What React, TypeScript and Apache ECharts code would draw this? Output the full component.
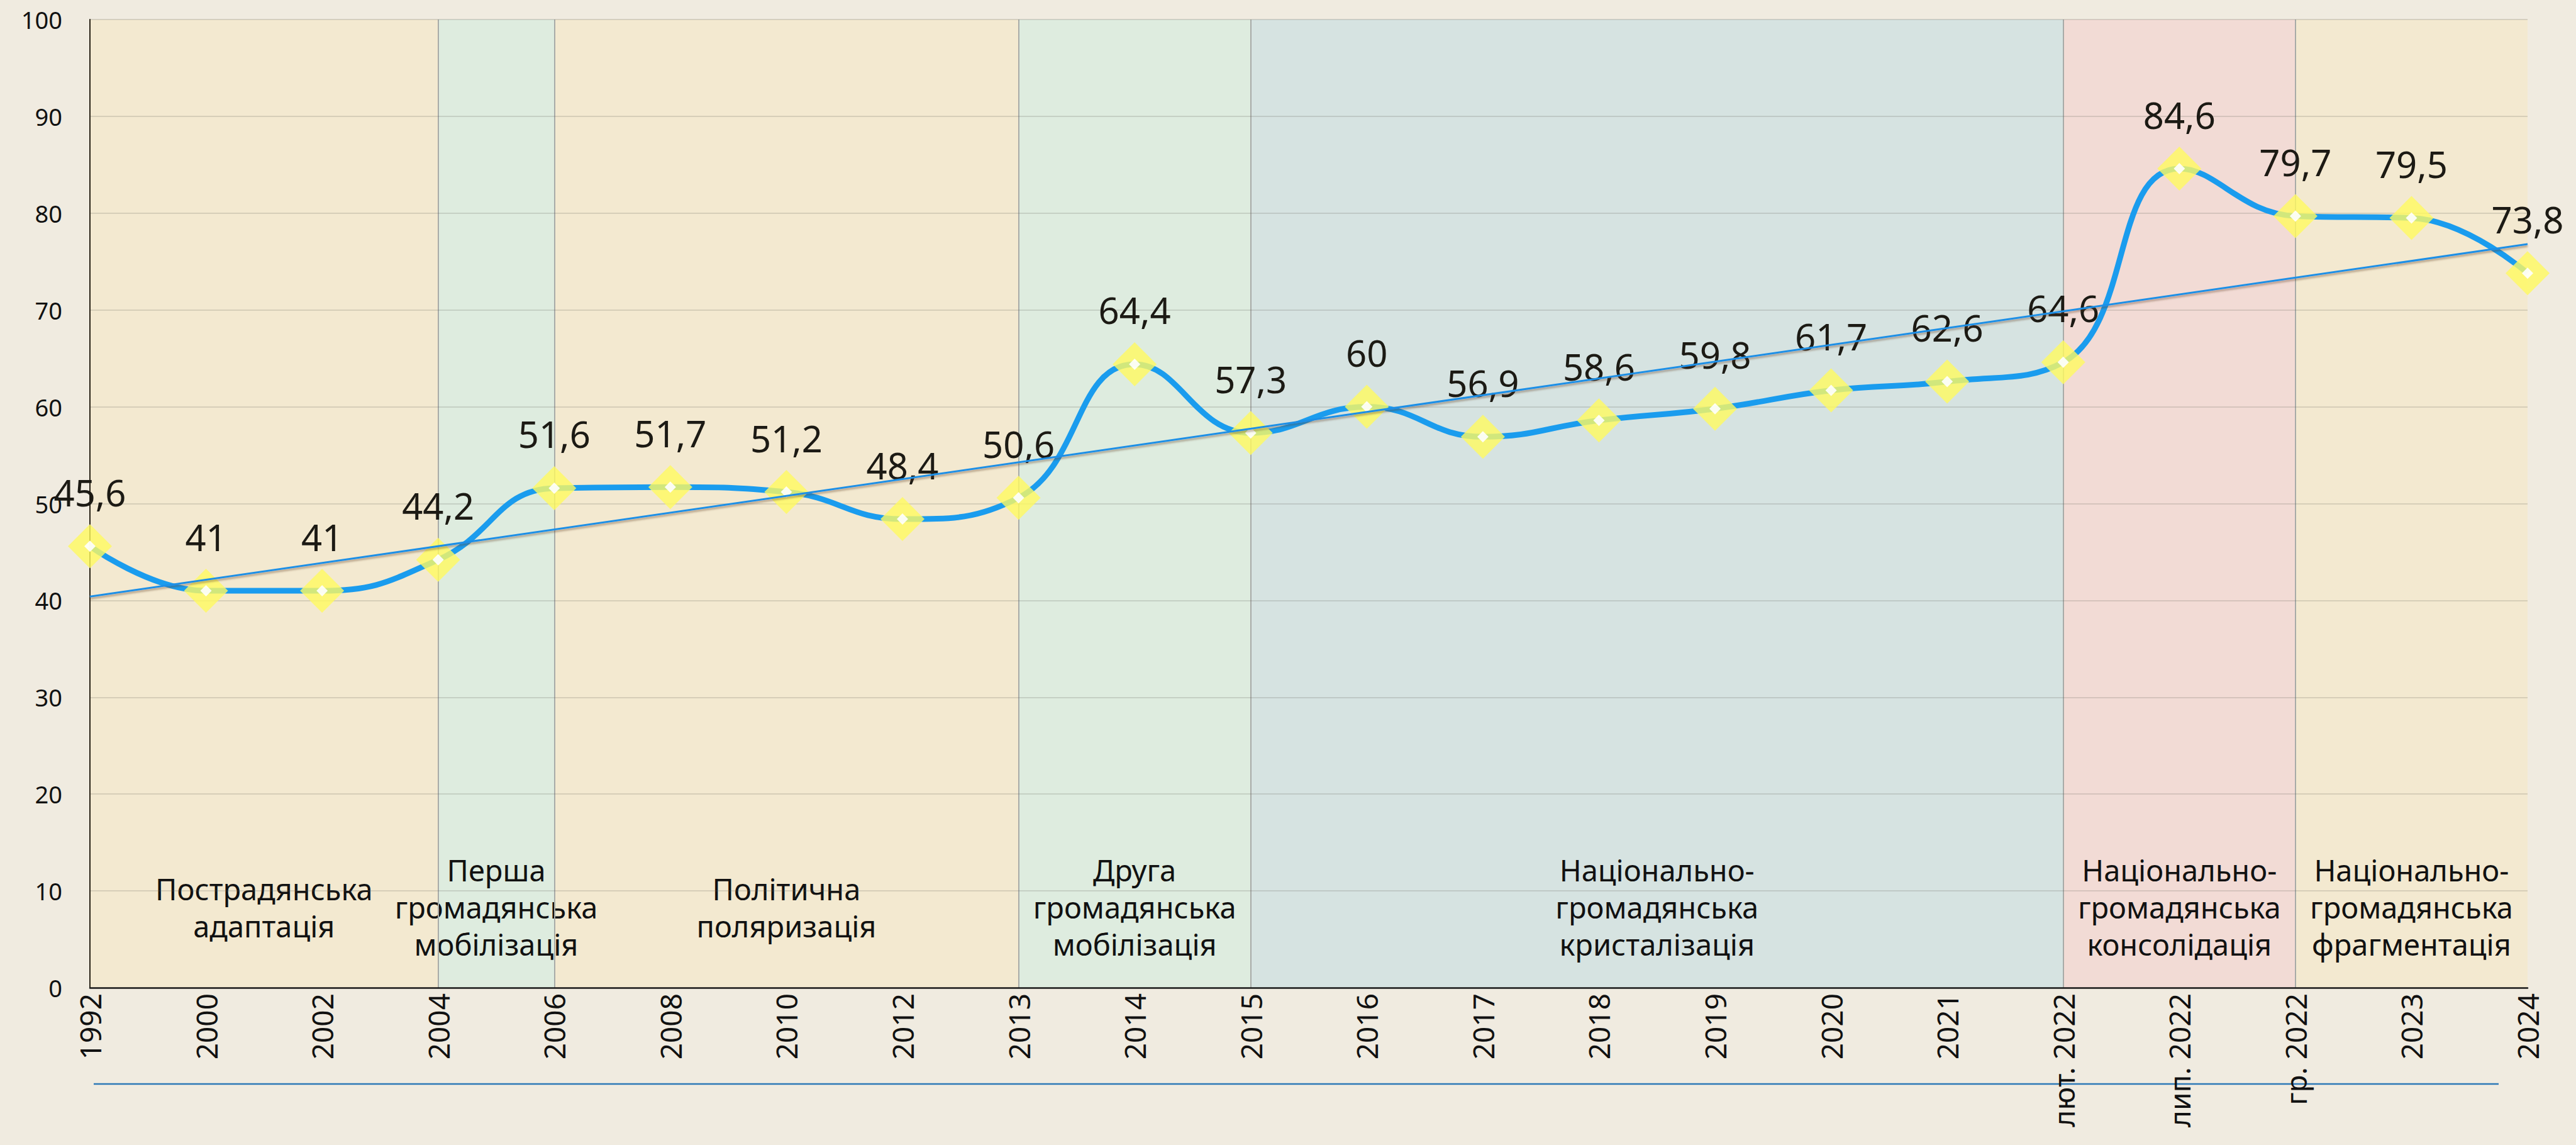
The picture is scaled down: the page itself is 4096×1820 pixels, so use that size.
import React, { useEffect, useRef } from "react";
import * as echarts from "echarts";

// ---- data ----
const categories = [
  "1992", "2000", "2002", "2004", "2006", "2008", "2010", "2012", "2013", "2014", "2015",
  "2016", "2017", "2018", "2019", "2020", "2021", "лют. 2022", "лип. 2022", "гр. 2022", "2023", "2024",
];
const values = [
  45.6, 41, 41, 44.2, 51.6, 51.7, 51.2, 48.4, 50.6, 64.4, 57.3,
  60, 56.9, 58.6, 59.8, 61.7, 62.6, 64.6, 84.6, 79.7, 79.5, 73.8,
];
// linear trend line, read at its two ends
const trendEnds = [40.4, 76.8];

const yMin = 0;
const yMax = 100;
const yStep = 10;

const periodNames = [
  "Пострадянська\nадаптація",
  "Перша\nгромадянська\nмобілізація",
  "Політична\nполяризація",
  "Друга\nгромадянська\nмобілізація",
  "Національно-\nгромадянська\nкристалізація",
  "Національно-\nгромадянська\nконсолідація",
  "Національно-\nгромадянська\nфрагментація",
];
const periodStart = ["1992", "2004", "2006", "2013", "2015", "лют. 2022", "гр. 2022"];
const periodEnd = ["2004", "2006", "2013", "2015", "лют. 2022", "гр. 2022", "2024"];
const periodKind = ["adapt", "mobil", "adapt", "mobil", "cryst", "consol", "adapt"];
const periodLabelValue = 8.3;

// ---- styles ----
const bandColors: Record<string, string> = {
  adapt: "#f3e9d0",
  mobil: "#deecdf",
  cryst: "#d6e3e1",
  consol: "#f2dbd5",
};
const FONT = "'Noto Sans', sans-serif";
const W = 4096;
const H = 1820;
const gridLeft = 143;
const gridTop = 31;
const gridRight = 77;
const gridBottom = 250;

export default function App() {
  const ref = useRef<HTMLDivElement>(null);

  useEffect(() => {
    document.body.style.margin = "0";
    if (!ref.current) return;
    const chart = echarts.init(ref.current, undefined, { renderer: "svg" });

    const gridHeight = H - gridTop - gridBottom;
    const centerY = gridTop + gridHeight / 2;
    const labelY = gridTop + gridHeight * (1 - (periodLabelValue - yMin) / (yMax - yMin));
    const bandLabelOffset = labelY - centerY;

    const last = categories.length - 1;
    const trendData = categories.map((_, i) =>
      i === 0 ? trendEnds[0] : i === last ? trendEnds[1] : null
    );

    const boundaries = periodStart.slice(1);

    chart.setOption({
      animation: false,
      backgroundColor: "#f0ebe0",
      textStyle: { fontFamily: FONT },
      grid: { left: gridLeft, top: gridTop, right: gridRight, bottom: gridBottom, containLabel: false },
      xAxis: {
        type: "category",
        data: categories,
        boundaryGap: false,
        z: 2,
        axisLine: { show: true, lineStyle: { color: "#1a1a1a", width: 2.5 } },
        axisTick: { show: false },
        splitLine: { show: false },
        axisLabel: {
          rotate: 90,
          interval: 0,
          margin: 9,
          fontSize: 46,
          color: "#111",
          fontFamily: FONT,
        },
      },
      yAxis: {
        type: "value",
        min: yMin,
        max: yMax,
        interval: yStep,
        z: 2,
        axisLine: { show: true, lineStyle: { color: "#2a2418", width: 2 } },
        axisTick: { show: false },
        splitLine: { show: true, lineStyle: { color: "rgba(100,100,90,0.2)", width: 2 } },
        axisLabel: { fontSize: 38, color: "#111", margin: 44, fontFamily: FONT },
      },
      graphic: [
        {
          type: "line",
          shape: { x1: 149, y1: 1723, x2: 3973, y2: 1723 },
          style: { stroke: "#2d79b6", lineWidth: 2.5 },
        },
      ],
      series: [
        {
          type: "line",
          name: "periods",
          data: [],
          z: 1,
          silent: true,
          markArea: {
            z: 0,
            silent: true,
            label: {
              show: true,
              position: "inside",
              offset: [0, bandLabelOffset],
              fontSize: 47,
              lineHeight: 59,
              color: "#111",
              fontFamily: FONT,
              align: "center",
              verticalAlign: "middle",
            },
            data: periodNames.map((name, i) => [
              { name, xAxis: periodStart[i], itemStyle: { color: bandColors[periodKind[i]] } },
              { xAxis: periodEnd[i] },
            ]),
          },
          markLine: {
            z: 1,
            silent: true,
            symbol: ["none", "none"],
            label: { show: false },
            lineStyle: { color: "#a8aba8", width: 2, type: "solid" },
            data: boundaries.map((c) => ({ xAxis: c })),
          },
        },
        {
          type: "line",
          name: "index",
          data: values,
          z: 3,
          smooth: 0.45,
          symbol: "diamond",
          symbolSize: 70,
          showAllSymbol: true,
          lineStyle: { color: "#1a9cee", width: 9 },
          itemStyle: { color: "rgba(255,250,95,0.8)" },
          label: {
            show: true,
            position: "inside",
            offset: [0, -86],
            fontSize: 58,
            color: "#1c1a14",
            fontFamily: FONT,
            formatter: (p: any) => String(p.value).replace(".", ","),
          },
        },
        {
          type: "scatter",
          name: "centers",
          data: values,
          z: 4,
          symbol: "diamond",
          symbolSize: 18,
          itemStyle: { color: "#ffffff", opacity: 0.9 },
          silent: true,
        },
        {
          type: "line",
          name: "trend",
          data: trendData,
          connectNulls: true,
          z: 5,
          symbol: "none",
          silent: true,
          lineStyle: {
            color: "#1e8fe6",
            width: 3,
            shadowColor: "rgba(90,60,40,0.45)",
            shadowBlur: 3,
            shadowOffsetY: 3,
          },
        },
      ],
    });

    return () => chart.dispose();
  }, []);

  return <div ref={ref} style={{ width: W, height: H, background: "#f0ebe0" }} />;
}
